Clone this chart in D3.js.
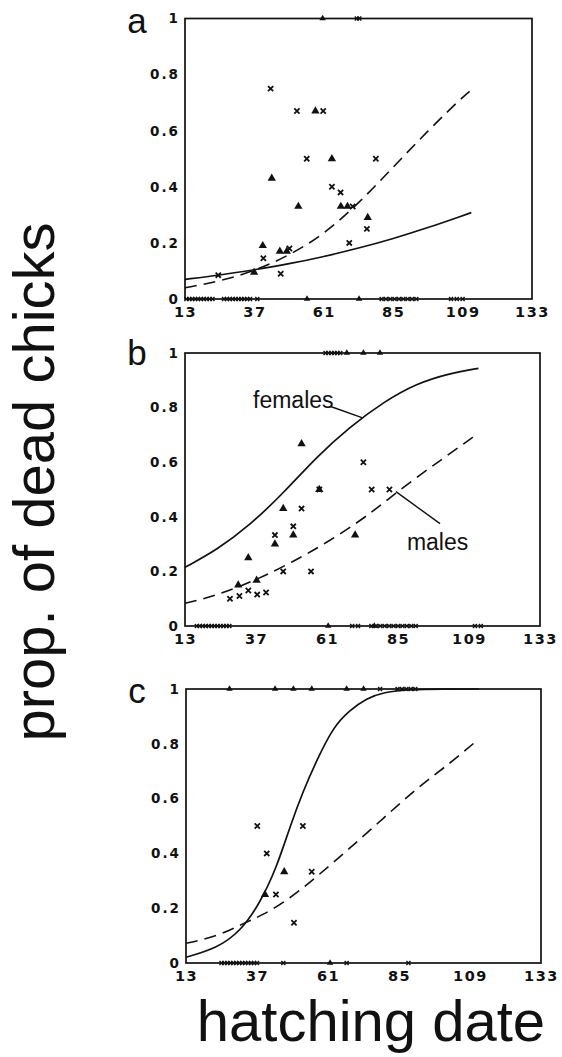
<!DOCTYPE html>
<html><head><meta charset="utf-8">
<script src="https://cdn.jsdelivr.net/npm/d3@7"></script>
<style>body{margin:0;background:#fff}</style></head>
<body>
<svg id="chart" width="562" height="1057"></svg>
<script>
// ---- tick labels ----
const xTicks = [13, 37, 61, 85, 109, 133];
const yTicks = [0, 0.2, 0.4, 0.6, 0.8, 1];
const yTickLabels = ["0", "0.2", "0.4", "0.6", "0.8", "1"];
const panelLetters = ["a", "b", "c"];

// ---- panel a ----
const aMales = [[42.6,0.75],[51.7,0.67],[60.8,0.67],[55.1,0.50],[79,0.50],[63.8,0.40],[66.8,0.38],[71,0.33],[75.9,0.25],[69.8,0.20],[40.1,0.145],[46.1,0.09],[49.1,0.18],[24.5,0.085]];
const aFemales = [[43,0.43],[58.1,0.67],[63.8,0.50],[52.2,0.33],[66.9,0.33],[69.2,0.33],[76.2,0.29],[39.9,0.19],[45.8,0.17],[48.2,0.17],[36.9,0.095]];
const aZeroMales = [13.5,14.5,15.5,16.5,17.5,18.5,19.5,20.5,21.5,22.5,26.5,27.5,28.5,29.5,30.5,31.5,32.5,33.5,34.5,35.5,38,81,82.5,84,85.5,87,88.5,90,91.5,93,105,107,109];
const aZeroFemales = [55.2, 73.2];
const aOneMales = [72.4, 73.3];
const aOneFemales = [60.6];
const aCurveX = [13,25,37,49,61,73,85,97,109,112];
const aFemCurveY = [0.07,0.085,0.104,0.125,0.151,0.181,0.215,0.254,0.297,0.308];
const aMaleCurveY = [0.04,0.063,0.10,0.155,0.23,0.34,0.47,0.60,0.72,0.745];

// ---- panel b ----
const bMales = [[73.3,0.60],[76.1,0.50],[82.1,0.50],[52.4,0.43],[49.6,0.365],[43.4,0.333],[46.2,0.20],[55.6,0.20],[28.2,0.10],[31.4,0.11],[34.4,0.13],[37.4,0.115],[40.4,0.123],[58.4,0.50]];
const bFemales = [[52.4,0.667],[46.2,0.43],[49.6,0.333],[43.4,0.30],[34.4,0.25],[37.2,0.167],[31,0.15],[70.5,0.333],[58.4,0.50]];
const bZeroMales = [17,18,19,20,21,22,23,24,25,26,27,28,69.5,71.5,76,77.5,79,80.5,82,83.5,85,86.5,88,89.5,91,111,113];
const bZeroFemales = [61.4, 77];
const bOneMales = [60.5,61.5,62.5,63.5,64.5,65.5];
const bOneFemales = [67.7,73.3,78.9];
const bFemCurveX = [13,23.7,35,46.2,57.5,68.8,80,91.3,102.6,112.2];
const bFemCurveY = [0.215,0.278,0.37,0.486,0.62,0.73,0.82,0.889,0.926,0.944];
const bMaleCurveX = [13,23.7,38.4,49.6,60.9,74.4,86.8,100.3,112.2];
const bMaleCurveY = [0.083,0.111,0.175,0.236,0.305,0.40,0.51,0.614,0.706];

// ---- panel c ----
const cMales = [[37.1,0.50],[52.5,0.50],[40.3,0.40],[55.5,0.333],[43.4,0.25],[49.5,0.147]];
const cFemales = [[46.2,0.333],[39.7,0.25]];
const cZeroMales = [25,26,27,28,29,30,31,32,33,34,35,36,37,45.9,67.3,88.2];
const cZeroFemales = [61.7];
const cOneMales = [78.6,84.5,86,87.5,89,90.5];
const cOneFemales = [27.7,43.1,49.3,55.5,67.3,73];
const cFemCurveX = [13,23.4,31.3,38,43.7,48.2,52.7,57.2,62.8,68.4,74.1,79.7,88.7,100,112];
const cFemCurveY = [0.021,0.054,0.114,0.218,0.35,0.50,0.63,0.74,0.862,0.923,0.966,0.988,0.999,1,1];
const cMaleCurveX = [13,23.4,32.4,39.1,48.2,57.2,68.4,79.7,91,102.3,111.8];
const cMaleCurveY = [0.072,0.096,0.145,0.175,0.236,0.315,0.419,0.528,0.638,0.729,0.816];

// ---- assemble panels (layout separate from data) ----
const layout = [
  {left:185, right:532, top:18.5, bottom:299, letterY:33},
  {left:185, right:540, top:353, bottom:626, letterY:365},
  {left:186, right:541, top:689, bottom:963, letterY:703}
];
const panels = [
  {males:aMales, females:aFemales, zeroM:aZeroMales, zeroF:aZeroFemales, oneM:aOneMales, oneF:aOneFemales,
   fem:aCurveX.map((x,i)=>[x,aFemCurveY[i]]), male:aCurveX.map((x,i)=>[x,aMaleCurveY[i]])},
  {males:bMales, females:bFemales, zeroM:bZeroMales, zeroF:bZeroFemales, oneM:bOneMales, oneF:bOneFemales,
   fem:bFemCurveX.map((x,i)=>[x,bFemCurveY[i]]), male:bMaleCurveX.map((x,i)=>[x,bMaleCurveY[i]])},
  {males:cMales, females:cFemales, zeroM:cZeroMales, zeroF:cZeroFemales, oneM:cOneMales, oneF:cOneFemales,
   fem:cFemCurveX.map((x,i)=>[x,cFemCurveY[i]]), male:cMaleCurveX.map((x,i)=>[x,cMaleCurveY[i]])}
];

const svg = d3.select("#chart");
svg.append("rect").attr("width",562).attr("height",1057).attr("fill","#fff");

const crossPath = "M-2.6,-2.6L2.6,2.6M-2.6,2.6L2.6,-2.6";
const tri = d3.symbol().type(d3.symbolTriangle).size(30)();
const triSmall = d3.symbol().type(d3.symbolTriangle).size(18)();

panels.forEach((p, i) => {
  const L = layout[i];
  const x = d3.scaleLinear().domain([13,133]).range([L.left, L.right]);
  const y = d3.scaleLinear().domain([0,1]).range([L.bottom, L.top]);
  const g = svg.append("g");

  // frame
  g.append("rect").attr("x",L.left).attr("y",L.top)
    .attr("width",L.right-L.left).attr("height",L.bottom-L.top)
    .attr("fill","none").attr("stroke","#111").attr("stroke-width",1.7);

  // axes (labels only)
  const xa = g.append("g").attr("transform",`translate(0,${L.bottom})`)
    .call(d3.axisBottom(x).tickValues(xTicks).tickSize(0).tickPadding(8).tickFormat(d3.format("d")));
  xa.select(".domain").remove();
  xa.selectAll("text").attr("font-family","DejaVu Sans").attr("font-weight","bold")
    .attr("font-size",14.5).attr("letter-spacing","1.5px").attr("fill","#111");

  const ya = g.append("g").attr("transform",`translate(${L.left},0)`)
    .call(d3.axisLeft(y).tickValues(yTicks).tickSize(0).tickPadding(5).tickFormat((d,k)=>yTickLabels[k]));
  ya.select(".domain").remove();
  ya.selectAll("text").attr("font-family","DejaVu Sans").attr("font-weight","bold")
    .attr("font-size",13.5).attr("letter-spacing","2px").attr("fill","#111");

  // panel letter
  svg.append("text").attr("x",137).attr("y",L.letterY).attr("text-anchor","middle")
    .attr("font-family","Liberation Sans, Arial, sans-serif").attr("font-size",35)
    .attr("fill","#111").text(panelLetters[i]);

  // curves
  const line = d3.line().x(d=>x(d[0])).y(d=>y(d[1])).curve(d3.curveBasis);
  g.append("path").datum(p.fem).attr("d",line).attr("fill","none")
    .attr("stroke","#111").attr("stroke-width",1.7);
  g.append("path").datum(p.male).attr("d",line).attr("fill","none")
    .attr("stroke","#111").attr("stroke-width",1.6).attr("stroke-dasharray","12,7");

  // interior points
  g.selectAll(".m").data(p.males).enter().append("path")
    .attr("d",crossPath).attr("transform",d=>`translate(${x(d[0])},${y(d[1])})`)
    .attr("stroke","#111").attr("stroke-width",1.8).attr("fill","none");
  g.selectAll(".f").data(p.females).enter().append("path")
    .attr("d",tri).attr("transform",d=>`translate(${x(d[0])},${y(d[1])})`).attr("fill","#111");

  // points on 0 and 1
  const edge = [[p.zeroM,0,"m"],[p.oneM,1,"m"],[p.zeroF,0,"f"],[p.oneF,1,"f"]];
  edge.forEach(([arr,val,kind]) => {
    g.selectAll(null).data(arr).enter().append("path")
      .attr("d", kind==="m" ? "M-2,-2L2,2M-2,2L2,-2" : triSmall)
      .attr("transform",d=>`translate(${x(d)},${y(val)})`)
      .attr("stroke", kind==="m" ? "#111" : "none").attr("stroke-width",1.4)
      .attr("fill", kind==="m" ? "none" : "#111");
  });

  // labels on panel b
  if (i === 1) {
    g.append("text").attr("x",x(36)).attr("y",y(0.80))
      .attr("font-family","Liberation Sans, Arial, sans-serif").attr("font-size",23)
      .attr("fill","#111").text("females");
    g.append("line").attr("x1",x(62)).attr("y1",y(0.805)).attr("x2",x(72.8)).attr("y2",y(0.763))
      .attr("stroke","#111").attr("stroke-width",1.4);
    g.append("text").attr("x",x(88)).attr("y",y(0.277))
      .attr("font-family","Liberation Sans, Arial, sans-serif").attr("font-size",23)
      .attr("fill","#111").text("males");
    g.append("line").attr("x1",x(99.2)).attr("y1",y(0.375)).attr("x2",x(84.3)).attr("y2",y(0.492))
      .attr("stroke","#111").attr("stroke-width",1.4);
  }
});

// axis titles
svg.append("text").attr("transform","translate(54,482) rotate(-90)").attr("text-anchor","middle")
  .attr("font-family","Liberation Sans, Arial, sans-serif").attr("font-size",58).attr("fill","#111")
  .text("prop. of dead chicks");
svg.append("text").attr("x",371).attr("y",1041).attr("text-anchor","middle")
  .attr("font-family","Liberation Sans, Arial, sans-serif").attr("font-size",58).attr("fill","#111")
  .text("hatching date");
</script>
</body></html>
